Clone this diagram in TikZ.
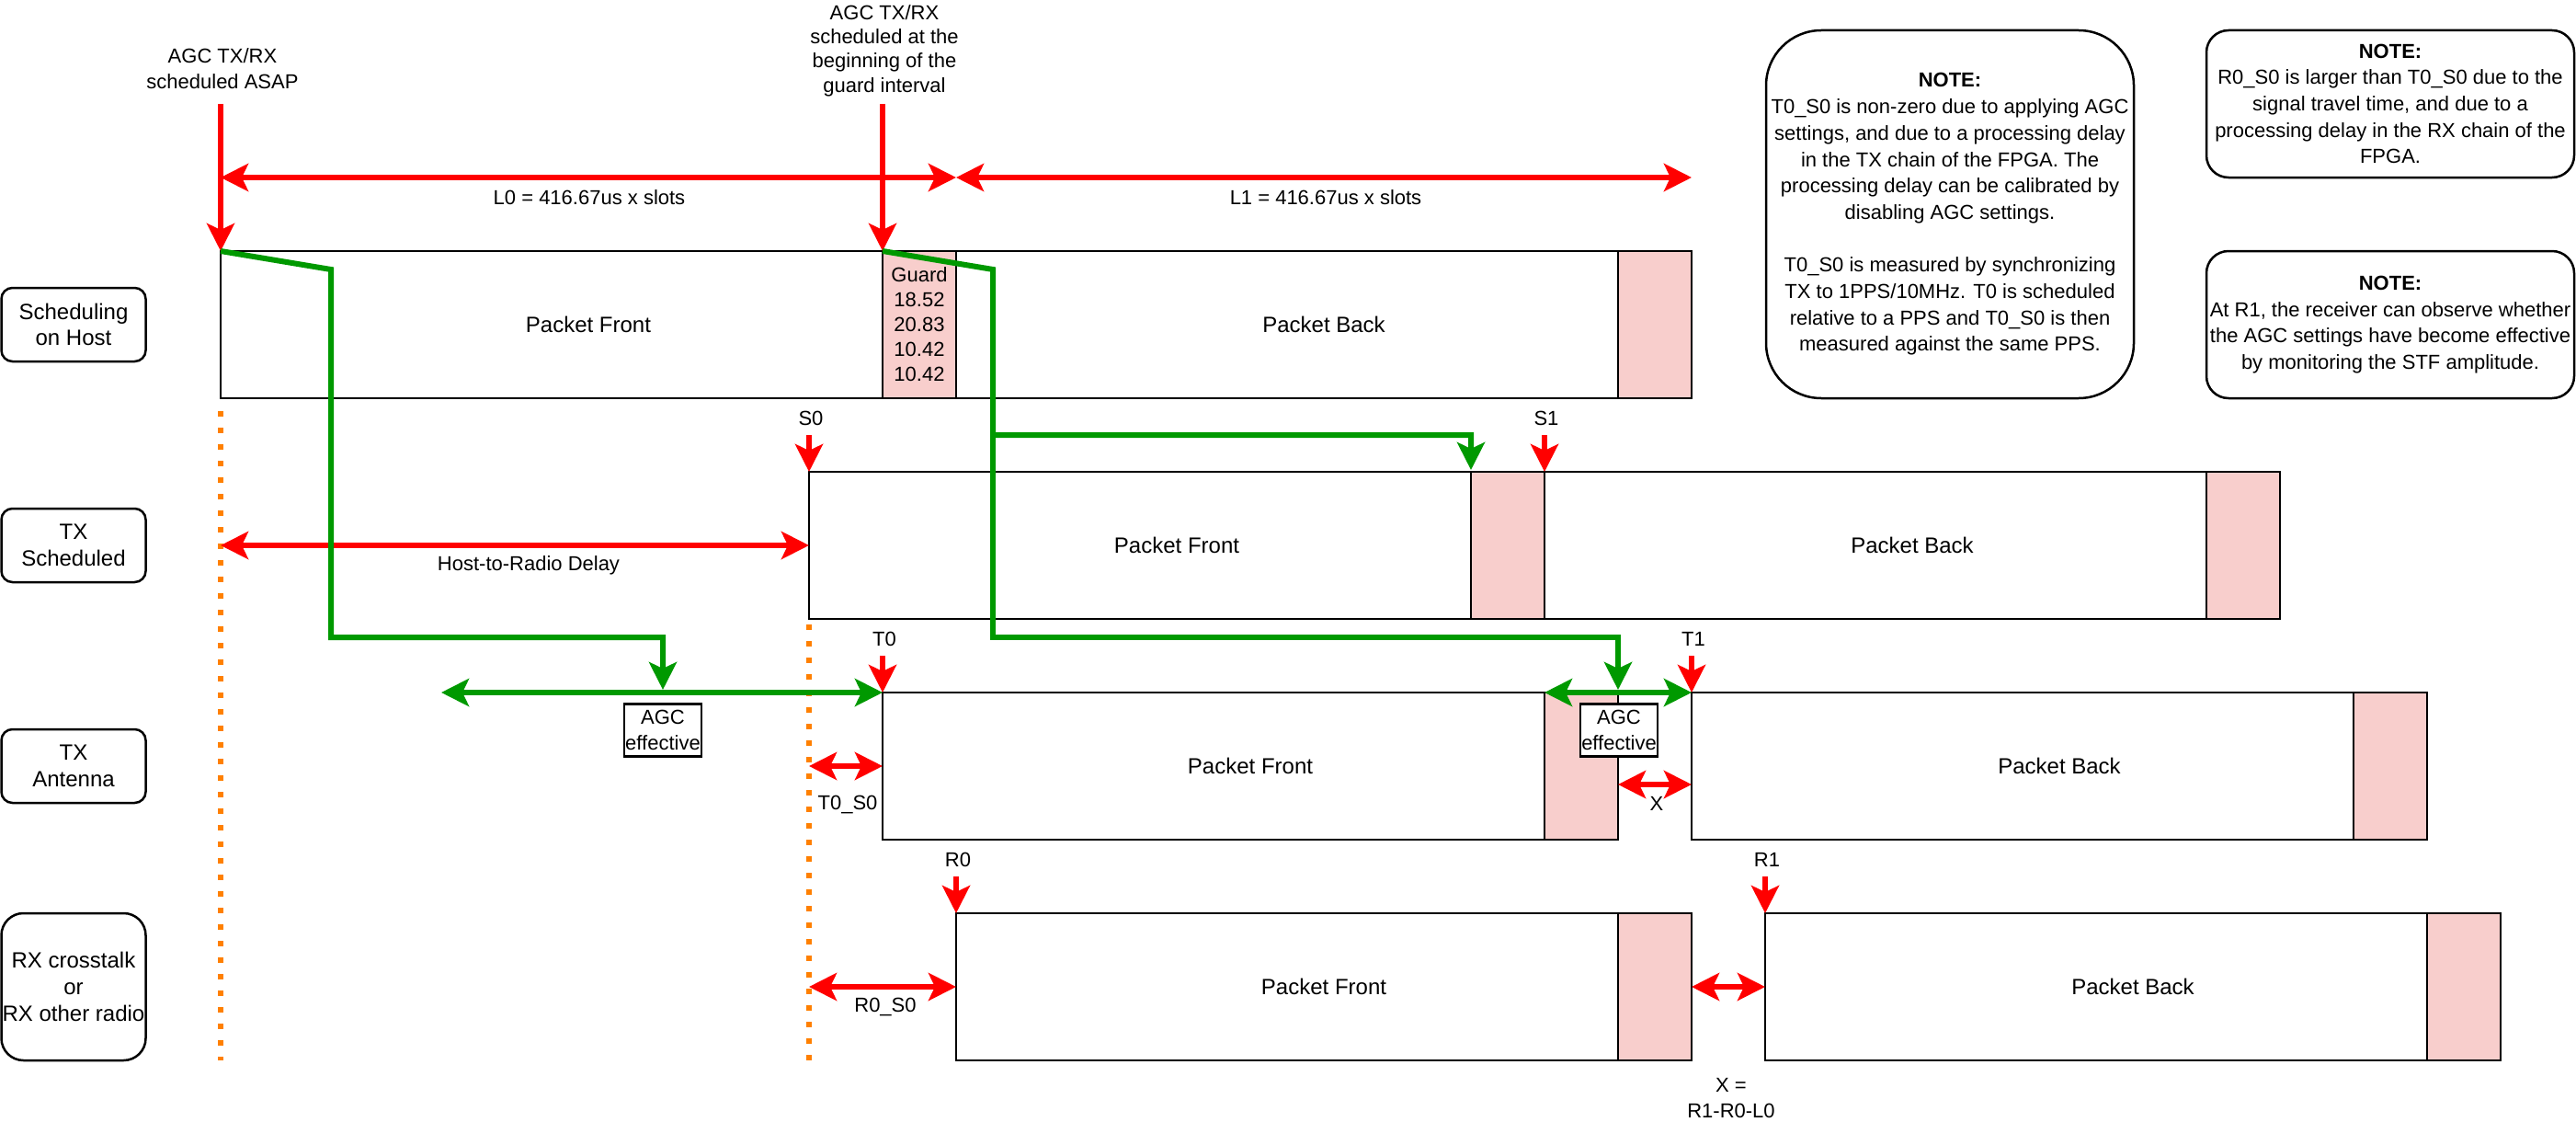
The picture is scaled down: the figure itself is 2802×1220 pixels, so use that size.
\documentclass[tikz,border=0pt]{standalone}
\usepackage{fontspec}
\setmainfont{Liberation Sans}
\usetikzlibrary{arrows.meta}
\definecolor{myred}{HTML}{FF0000}
\definecolor{mygreen}{HTML}{009900}
\definecolor{myorange}{HTML}{FF8000}
\definecolor{mypink}{HTML}{F8CECC}
\begin{document}
\begin{tikzpicture}[x=1pt,y=-1pt,
  >={Stealth[length=30pt,width=30pt,inset=7pt]},
  fsbig/.style={font=\fontsize{24}{28.8}\selectfont},
  fssmall/.style={font=\fontsize{22}{26.4}\selectfont},
  pkt/.style={draw=black, line width=2.5pt, fill=white, minimum height=160pt, minimum width=800pt, inner sep=0pt, outer sep=0pt, anchor=north west, fsbig},
  pinkbox/.style={draw=black, line width=2pt, fill=mypink, minimum width=80pt, minimum height=160pt, inner sep=0pt, outer sep=0pt, anchor=north east},
  lane/.style={draw=black, line width=2.5pt, rounded corners=12pt, minimum width=157pt, minimum height=80pt, inner sep=0pt, outer sep=0pt, align=center, fsbig},
  notebox/.style={draw=black, line width=2.5pt, minimum width=400pt, inner sep=0pt, outer sep=0pt, align=center, font=\fontsize{22}{28.7}\selectfont},
  lbl/.style={fssmall, inner sep=0pt, outer sep=0pt, align=center},
  agcbox/.style={draw=black, line width=2.5pt, fill=white, minimum width=84pt, minimum height=57pt, inner sep=0pt, outer sep=0pt, align=center, font=\fontsize{22}{28}\selectfont},
  redarr/.style={draw=myred, line width=6pt, ->},
  redbi/.style={draw=myred, line width=6pt, <->},
  greenline/.style={draw=mygreen, line width=6pt, miter limit=20},
  greenarr/.style={greenline, ->},
  greenbi/.style={greenline, <->},
  orangedot/.style={draw=myorange, line width=6pt, dash pattern=on 6pt off 12pt}
]
\useasboundingbox (0,0) rectangle (2802,1220);

% orange dotted reference lines
\coordinate (o1a) at (240,447);
\coordinate (o1b) at (240,1153);
\coordinate (o2a) at (880,679);
\coordinate (o2b) at (880,1153);
\draw[orangedot] (o1a) -- (o1b);
\draw[orangedot] (o2a) -- (o2b);

% lane labels
\node[lane] (lh) at (80,353) {Scheduling\\on Host};
\node[lane] (ls) at (80,593) {TX\\Scheduled};
\node[lane] (la) at (80,833) {TX\\Antenna};
\node[lane, minimum height=160pt, rounded corners=24pt] (lr) at (80,1073) {RX crosstalk\\or\\RX other radio};

% row 1: host
\node[pkt] (hf) at (240,273) {Packet Front};
\node[pinkbox, align=center, font=\fontsize{22}{27}\selectfont] (hg) at (hf.north east) {Guard\\18.52\\20.83\\10.42\\10.42};
\node[pkt] (hb) at (1040,273) {Packet Back};
\node[pinkbox] (ht) at (hb.north east) {};

% row 2: TX scheduled
\node[pkt] (tf) at (880,513) {Packet Front};
\node[pinkbox] (tg) at (tf.north east) {};
\node[pkt] (tb) at (1680,513) {Packet Back};
\node[pinkbox] (tt) at (tb.north east) {};

% row 3: TX antenna
\node[pkt] (af) at (960,753) {Packet Front};
\node[pinkbox] (ag) at (af.north east) {};
\node[pkt] (ab) at (1840,753) {Packet Back};
\node[pinkbox] (at) at (ab.north east) {};

% row 4: RX
\node[pkt] (rf) at (1040,993) {Packet Front};
\node[pinkbox] (rg) at (rf.north east) {};
\node[pkt] (rb) at (1920,993) {Packet Back};
\node[pinkbox] (rt) at (rb.north east) {};

% notes
\node[notebox, minimum height=400pt, rounded corners=60pt] (n1) at (2121,233) {\textbf{NOTE:}\\T0\_S0 is non-zero due to applying AGC\\settings, and due to a processing delay\\in the TX chain of the FPGA. The\\processing delay can be calibrated by\\disabling AGC settings.\\[28.7pt]T0\_S0 is measured by synchronizing\\TX to 1PPS/10MHz. T0 is scheduled\\relative to a PPS and T0\_S0 is then\\measured against the same PPS.};
\node[notebox, minimum height=160pt, rounded corners=24pt] (n2) at (2600,113) {\textbf{NOTE:}\\R0\_S0 is larger than T0\_S0 due to the\\signal travel time, and due to a\\processing delay in the RX chain of the\\FPGA.};
\node[notebox, minimum height=160pt, rounded corners=24pt] (n3) at (2600,353) {\textbf{NOTE:}\\At R1, the receiver can observe whether\\the AGC settings have become effective\\by monitoring the STF amplitude.};

% top labels and scheduling arrows
\node[lbl, font=\fontsize{22}{28}\selectfont] (asap) at (242,75) {AGC TX/RX\\scheduled ASAP};
\node[lbl] (guardlbl) at (962,55) {AGC TX/RX\\scheduled at the\\beginning of the\\guard interval};
\coordinate (asapS) at (240,113);
\coordinate (guardS) at (960,113);
\draw[redarr] (asapS) -- (hf.north west);
\draw[redarr] (guardS) -- (hg.north west);

% L0 / L1
\coordinate (l0a) at (240,193);
\coordinate (l0b) at (1040,193);
\coordinate (l1b) at (1840,193);
\draw[redbi] (l0a) -- (l0b);
\draw[redbi] (l0b) -- (l1b);
\node[lbl] (l0lbl) at (641,215) {L0 = 416.67us x slots};
\node[lbl] (l1lbl) at (1442,215) {L1 = 416.67us x slots};

% S0 / S1
\node[lbl] (s0lbl) at (882,455) {S0};
\node[lbl] (s1lbl) at (1682,455) {S1};
\coordinate (s0s) at (880,473);
\coordinate (s1s) at (1680,473);
\draw[redarr] (s0s) -- (tf.north west);
\draw[redarr] (s1s) -- (tb.north west);

% host-to-radio delay
\coordinate (hrd) at (240,593);
\draw[redbi] (hrd) -- (tf.west);
\node[lbl] (hrdlbl) at (575,615) {Host-to-Radio Delay};

% T0 / T1
\node[lbl] (t0lbl) at (962,695) {T0};
\node[lbl] (t1lbl) at (1842,695) {T1};
\coordinate (t0s) at (960,713);
\coordinate (t1s) at (1840,713);
\draw[redarr] (t0s) -- (af.north west);
\draw[redarr] (t1s) -- (ab.north west);

% T0_S0 and X
\coordinate (ts0) at (880,833);
\draw[redbi] (ts0) -- (af.west);
\node[lbl] (ts0lbl) at (922,875) {T0\_S0};
\coordinate (x3a) at (1760,853);
\coordinate (x3b) at (1840,853);
\draw[redbi] (x3a) -- (x3b);
\node[lbl] (x3lbl) at (1802,874) {X};

% R0 / R1
\node[lbl] (r0lbl) at (1042,935) {R0};
\node[lbl] (r1lbl) at (1922,935) {R1};
\coordinate (r0s) at (1040,953);
\coordinate (r1s) at (1920,953);
\draw[redarr] (r0s) -- (rf.north west);
\draw[redarr] (r1s) -- (rb.north west);

% R0_S0 and X
\coordinate (rs0) at (880,1073);
\draw[redbi] (rs0) -- (rf.west);
\node[lbl] (rs0lbl) at (963,1095) {R0\_S0};
\draw[redbi] (rf.east) -- (rb.west);
\node[lbl, font=\fontsize{22}{28}\selectfont] (x4lbl) at (1883,1194) {X =\\R1-R0-L0};

% green AGC paths
\coordinate (g1a) at (360,293);
\coordinate (g1b) at (360,693);
\coordinate (g1c) at (721,693);
\coordinate (g1d) at (721,750);
\draw[greenarr] (hf.north west) -- (g1a) -- (g1b) -- (g1c) -- (g1d);
\coordinate (ge1) at (480,753);
\draw[greenbi] (ge1) -- (af.north west);
\node[agcbox] (agc1) at (721,794) {AGC\\effective};

\coordinate (g2a) at (1080,293);
\coordinate (g2b) at (1080,473);
\coordinate (g2c) at (1600,473);
\coordinate (g2d) at (1600,511);
\coordinate (g2e) at (1080,693);
\coordinate (g2f) at (1760,693);
\coordinate (g2g) at (1760,750);
\draw[greenarr] (hg.north west) -- (g2a) -- (g2b) -- (g2c) -- (g2d);
\draw[greenarr] (g2b) -- (g2e) -- (g2f) -- (g2g);
\draw[greenbi] (ag.north west) -- (ab.north west);
\node[agcbox] (agc2) at (1761,794) {AGC\\effective};
\end{tikzpicture}
\end{document}
